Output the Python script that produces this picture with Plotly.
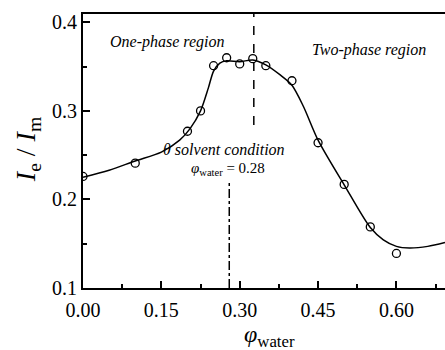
import plotly.graph_objects as go

# measured points
phi_pts = [0.00, 0.10, 0.20, 0.225, 0.25, 0.275, 0.30, 0.325, 0.35, 0.40, 0.45, 0.50, 0.55, 0.60]
ratio_pts = [0.226, 0.241, 0.277, 0.300, 0.351, 0.360, 0.353, 0.359, 0.351, 0.334, 0.264, 0.217, 0.169, 0.139]

# fitted curve
phi_fit = [0.00, 0.05, 0.10, 0.15, 0.185, 0.205, 0.225, 0.24, 0.25, 0.262, 0.275, 0.30, 0.325,
           0.35, 0.3775, 0.40, 0.422, 0.45, 0.50, 0.55, 0.575, 0.60, 0.625, 0.66, 0.693]
ratio_fit = [0.225, 0.233, 0.2435, 0.2535, 0.267, 0.280, 0.300, 0.326, 0.345, 0.354, 0.3565, 0.3555, 0.3575,
             0.352, 0.3406, 0.329, 0.305, 0.267, 0.2165, 0.1683, 0.1544, 0.147, 0.1451, 0.147, 0.1514]

x_ticks = [0.00, 0.15, 0.30, 0.45, 0.60]
x_ticktext = ["0.00", "0.15", "0.30", "0.45", "0.60"]
y_ticks = [0.1, 0.2, 0.3, 0.4]
y_ticktext = ["0.1", "0.2", "0.3", "0.4"]

theta_phi = 0.28
theta_top = 0.221
boundary_phi = 0.327
boundary_bottom = 0.284

x_range = [0.0, 0.693]
y_range = [0.1, 0.4094]

FONT = "Liberation Serif"

fig = go.Figure()
fig.add_trace(go.Scatter(x=phi_fit, y=ratio_fit, mode="lines",
                         line=dict(color="black", width=1.5, shape="spline", smoothing=0.8),
                         hoverinfo="skip", showlegend=False))
fig.add_trace(go.Scatter(x=phi_pts, y=ratio_pts, mode="markers",
                         marker=dict(symbol="circle-open", size=8, color="black", line=dict(width=1.3)),
                         showlegend=False))
# dash-dot theta line
fig.add_trace(go.Scatter(x=[theta_phi, theta_phi], y=[y_range[0], theta_top], mode="lines",
                         line=dict(color="black", width=1.5, dash="dashdot"), showlegend=False))
# dashed phase boundary
fig.add_trace(go.Scatter(x=[boundary_phi, boundary_phi], y=[boundary_bottom, y_range[1]], mode="lines",
                         line=dict(color="black", width=1.5, dash="dash"), showlegend=False))

fig.update_xaxes(range=x_range, tickvals=x_ticks, ticktext=x_ticktext,
                 ticks="inside", ticklen=7, tickwidth=1.5, tickcolor="black",
                 minor=dict(ticks="inside", ticklen=4, dtick=0.075, tick0=0, tickcolor="black", tickwidth=1.5),
                 showline=True, linecolor="black", linewidth=2, mirror=True,
                 showgrid=False, zeroline=False, ticklabelstandoff=3,
                 tickfont=dict(family=FONT, size=20, color="black"))
fig.update_yaxes(range=y_range, tickvals=y_ticks, ticktext=y_ticktext,
                 ticks="inside", ticklen=7, tickwidth=1.5, tickcolor="black",
                 minor=dict(ticks="inside", ticklen=4, dtick=0.05, tick0=0.1, tickcolor="black", tickwidth=1.5),
                 showline=True, linecolor="black", linewidth=2,
                 showgrid=False, zeroline=False,
                 tickfont=dict(family=FONT, size=20, color="black"))

ann = [
    dict(x=0.161, y=0.3778, text="<i>One-phase region</i>", size=16),
    dict(x=0.548, y=0.3688, text="<i>Two-phase region</i>", size=16),
    dict(x=0.270, y=0.2560, text="<i>θ solvent condition</i>", size=16),
    dict(x=0.278, y=0.2346, text="<i>φ</i><sub>water</sub> = 0.28", size=15),
]
for a in ann:
    fig.add_annotation(x=a["x"], y=a["y"], xref="x", yref="y", text=a["text"], showarrow=False,
                       xanchor="center", yanchor="middle",
                       font=dict(family=FONT, size=a["size"], color="black"))

fig.add_annotation(x=-0.151, y=0.256, xref="paper", yref="y", textangle=-90,
                   xanchor="center", yanchor="middle",
                   text="<i>I</i><sub>e</sub> / <i>I</i><sub>m</sub>", showarrow=False,
                   font=dict(family=FONT, size=28, color="black"))
fig.add_annotation(x=0.514, y=-0.176, xref="paper", yref="paper",
                   xanchor="center", yanchor="middle",
                   text="<i>φ</i><sub>water</sub>", showarrow=False,
                   font=dict(family=FONT, size=24, color="black"))

fig.update_layout(width=445, height=350, margin=dict(l=83, r=0, t=14, b=62),
                  plot_bgcolor="white", paper_bgcolor="white", showlegend=False)

fig.write_html("out.html")
